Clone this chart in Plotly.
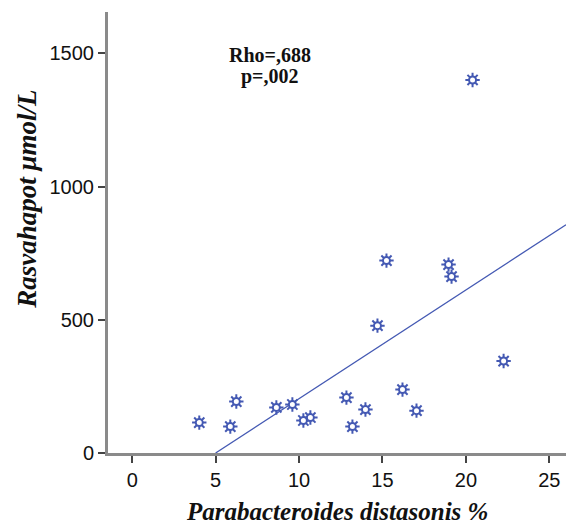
import plotly.graph_objects as go

# Data
parabacteroides_pct = [4.02, 5.88, 6.24, 8.64, 9.60, 10.26, 10.68, 12.84, 13.20, 13.98,
                       14.70, 15.24, 16.20, 17.04, 18.96, 19.14, 20.40, 22.26]
rasvahapot = [114, 99, 193, 171, 182, 122, 133, 208, 99, 163,
              478, 722, 238, 159, 707, 662, 1400, 345]

fit_slope = 40.8
fit_intercept = -204.0
fit_x = [5.0, 26.0]
fit_y = [fit_intercept + fit_slope * v for v in fit_x]

x_ticks = [0, 5, 10, 15, 20, 25]
y_ticks = [0, 500, 1000, 1500]

blue = "#4459b3"
axis_gray = "#8a8a8a"

fig = go.Figure()
fig.add_trace(go.Scatter(x=fit_x, y=fit_y, mode="lines",
                         line=dict(color=blue, width=1.3), hoverinfo="skip",
                         showlegend=False))
fig.add_trace(go.Scatter(x=parabacteroides_pct, y=rasvahapot, mode="markers",
                         marker=dict(symbol="asterisk-open", size=12, color=blue,
                                     line=dict(color=blue, width=2)),
                         showlegend=False))
fig.add_trace(go.Scatter(x=parabacteroides_pct, y=rasvahapot, mode="markers",
                         marker=dict(symbol="circle", size=7, color="white",
                                     line=dict(color=blue, width=2)),
                         showlegend=False))

fig.update_layout(
    width=566, height=527,
    margin=dict(l=108, r=0, t=12, b=74),
    paper_bgcolor="white", plot_bgcolor="white",
    font=dict(family="Liberation Sans, Arial, sans-serif", size=20, color="#111"),
    xaxis=dict(range=[-1.45, 26], tickvals=x_ticks, showgrid=False, zeroline=False,
               showline=True, linecolor=axis_gray, linewidth=3,
               ticks="outside", ticklen=7, tickwidth=2, tickcolor="#444",
               tickfont=dict(size=20)),
    yaxis=dict(range=[0, 1655], tickvals=y_ticks, showgrid=False, zeroline=False,
               showline=True, linecolor=axis_gray, linewidth=3,
               ticks="outside", ticklen=7, tickwidth=2, tickcolor="#444",
               tickfont=dict(size=20)),
    annotations=[
        dict(text="<b><i>Parabacteroides distasonis %</i></b>", xref="paper", yref="paper",
             x=0.5, y=-0.132, xanchor="center", yanchor="middle", showarrow=False,
             font=dict(family="Liberation Serif, Times New Roman, serif", size=25, color="#111")),
        dict(text="<b><i>Rasvahapot μmol/L</i></b>", xref="paper", yref="paper",
             x=-0.176, y=0.575, xanchor="center", yanchor="middle", textangle=-90,
             showarrow=False,
             font=dict(family="Liberation Serif, Times New Roman, serif", size=27, color="#111")),
        dict(text="<b>Rho=,688</b>", xref="x", yref="y", x=8.28, y=1494,
             xanchor="center", yanchor="middle", showarrow=False,
             font=dict(family="Liberation Serif, Times New Roman, serif", size=20, color="#111")),
        dict(text="<b>p=,002</b>", xref="x", yref="y", x=8.28, y=1412,
             xanchor="center", yanchor="middle", showarrow=False,
             font=dict(family="Liberation Serif, Times New Roman, serif", size=20, color="#111")),
    ],
)

fig.write_html("out.html")
